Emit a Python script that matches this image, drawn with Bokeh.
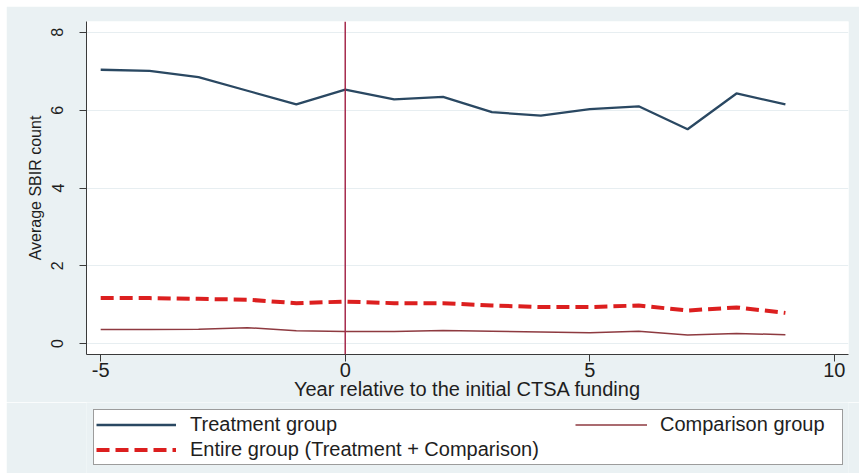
from bokeh.plotting import figure
from bokeh.layouts import column
from bokeh.models import Span, Legend, LegendItem, FixedTicker
from bokeh.embed import file_html
from bokeh.resources import INLINE

# Average SBIR counts by year relative to the initial CTSA award
years = [-5, -4, -3, -2, -1, 0, 1, 2, 3, 4, 5, 6, 7, 8, 9]
treatment = [7.04, 7.01, 6.85, 6.50, 6.15, 6.53, 6.28, 6.34, 5.95, 5.86, 6.03, 6.10, 5.51, 6.43, 6.15]
comparison = [0.36, 0.36, 0.37, 0.41, 0.33, 0.31, 0.31, 0.34, 0.32, 0.30, 0.28, 0.32, 0.22, 0.26, 0.23]
entire = [1.17, 1.17, 1.15, 1.13, 1.04, 1.08, 1.04, 1.04, 0.98, 0.94, 0.94, 0.98, 0.85, 0.93, 0.79]

x_ticks = [-5, 0, 5, 10]
y_ticks = [0, 2, 4, 6, 8]
funding_year = 0

x_title = "Year relative to the initial CTSA funding"
y_title = "Average SBIR count"
labels = ["Treatment group", "Comparison group", "Entire group (Treatment + Comparison)"]

FONT = "Liberation Sans"
REGION = "#eaf1f3"
AXIS = "#3a3a3a"
TEXT = "#1e1e1e"

# line styles shared by the plot and its key
treat_style = dict(line_color="#2a4862", line_width=2.3)
comp_style = dict(line_color="#8e3a40", line_width=1.5)
all_style = dict(line_color="#dc1f1f", line_width=4, line_dash="13 6")

p = figure(
    width=853, height=396,
    x_range=(-5.29, 10.29), y_range=(-0.28, 8.28),
    output_backend="svg", toolbar_location=None,
    min_border_left=80, min_border_right=11,
    min_border_top=15, min_border_bottom=47,
)
p.background_fill_color = "white"
p.border_fill_color = REGION
p.outline_line_color = None

# axes
p.xaxis.ticker = FixedTicker(ticks=x_ticks)
p.yaxis.ticker = FixedTicker(ticks=y_ticks)
p.xaxis.major_label_overrides = {t: str(t) for t in x_ticks}
for ax in (p.xaxis, p.yaxis):
    ax.axis_line_color = AXIS
    ax.axis_line_width = 1
    ax.major_tick_line_color = AXIS
    ax.major_tick_out = 7
    ax.major_tick_in = 0
    ax.minor_tick_line_color = None
    ax.major_label_text_font = FONT
    ax.major_label_text_color = TEXT
    ax.axis_label_text_font = FONT
    ax.axis_label_text_font_style = "normal"
    ax.axis_label_text_color = TEXT

p.xaxis.axis_label = x_title
p.xaxis.major_label_text_font_size = "20px"
p.xaxis.axis_label_text_font_size = "20px"
p.xaxis.major_label_standoff = 1
p.xaxis.axis_label_standoff = -2

p.yaxis.axis_label = y_title
p.yaxis.major_label_orientation = "vertical"
p.yaxis.major_label_text_font_size = "16px"
p.yaxis.axis_label_text_font_size = "16px"
p.yaxis.major_label_standoff = 16
p.yaxis.axis_label_standoff = 5

p.xgrid.grid_line_color = None
p.ygrid.grid_line_color = "#e7eef1"
p.ygrid.grid_line_width = 1

# series
p.line(years, treatment, **treat_style)
p.line(years, comparison, **comp_style)
p.line(years, entire, **all_style)

# start of CTSA funding
p.add_layout(Span(location=funding_year, dimension="height",
                  line_color="#a52b4c", line_width=1.5))

# key panel below the plot (its frame lines up with the plot frame)
k = figure(
    width=853, height=71, x_range=(-5.29, 10.29), y_range=(100, 101),
    output_backend="svg", toolbar_location=None,
    min_border=0, x_axis_type=None, y_axis_type=None,
)
k.background_fill_color = REGION
k.border_fill_color = REGION
k.outline_line_color = None
k.xgrid.grid_line_color = None
k.ygrid.grid_line_color = None

# hidden copies of the series, used only as key entries
k_treat = k.line(years, treatment, visible=False, **treat_style)
k_comp = k.line(years, comparison, visible=False, **comp_style)
k_all = k.line(years, entire, visible=False, **all_style)

leg_common = dict(
    label_text_font=FONT, label_text_font_size="20px", label_text_color=TEXT,
    glyph_height=25, label_height=25, padding=2, spacing=0, margin=0,
)
# outer box holds the left column; the second column sits on top of it
left_leg = Legend(
    items=[LegendItem(label=labels[0], renderers=[k_treat]),
           LegendItem(label=labels[2], renderers=[k_all])],
    location=(7, 8), glyph_width=80, label_standoff=14, label_width=650,
    border_line_color=AXIS, border_line_width=1,
    background_fill_color="white", background_fill_alpha=1.0,
    **leg_common,
)
right_leg = Legend(
    items=[LegendItem(label=labels[1], renderers=[k_comp])],
    location=(489, 36), glyph_width=72, label_standoff=13,
    border_line_color=None, background_fill_alpha=0.0,
    **leg_common,
)
k.add_layout(left_leg, "center")
k.add_layout(right_leg, "center")

page = column(p, k, spacing=0, margin=(6, 0, 0, 6))
open("out.html", "w").write(file_html(page, INLINE))
